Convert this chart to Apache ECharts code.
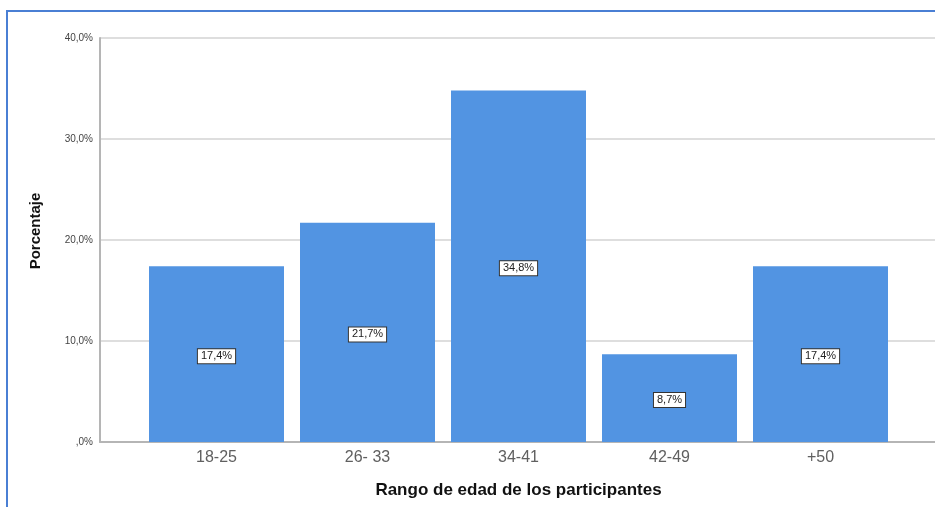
<!DOCTYPE html>
<html>
<head>
<meta charset="utf-8">
<script src="https://cdn.jsdelivr.net/npm/echarts@6/dist/echarts.min.js"></script>
<style>
  html, body { margin: 0; padding: 0; background: #fff; }
  #chart { width: 935px; height: 507px; }
</style>
</head>
<body>
<div id="chart"></div>
<script>
// datos
const categorias = ["18-25", "26- 33", "34-41", "42-49", "+50"];
const porcentajes = [17.4, 21.7, 34.8, 8.7, 17.4];
const ticksY = [0, 10, 20, 30, 40];

const font = "Liberation Sans, Arial, sans-serif";

function fmtPct(v, dec) {
  if (v === 0) return ",0%";
  return v.toFixed(dec).replace(".", ",") + "%";
}

const chart = echarts.init(document.getElementById("chart"));

const option = {
  animation: false,
  backgroundColor: "#fff",
  textStyle: { fontFamily: font },
  grid: [
    // area completa (eje Y y lineas de cuadricula)
    { left: 100, right: 0, top: 38, bottom: 65 },
    // area de las barras
    { left: 141, width: 755, top: 38, bottom: 65 }
  ],
  xAxis: [
    {
      gridIndex: 0,
      type: "value",
      min: 0,
      max: 1,
      axisLine: { show: true, lineStyle: { color: "#b5b5b5", width: 2 } },
      axisTick: { show: false },
      axisLabel: { show: false },
      splitLine: { show: false }
    },
    {
      gridIndex: 1,
      type: "category",
      data: categorias,
      axisLine: { show: false },
      axisTick: { show: false },
      axisLabel: { color: "#606060", fontSize: 16, margin: 8, fontFamily: font },
      name: "Rango de edad de los participantes",
      nameLocation: "middle",
      nameGap: 40,
      nameTextStyle: { color: "#111", fontSize: 17, fontWeight: "bold", fontFamily: font }
    }
  ],
  yAxis: [
    {
      gridIndex: 0,
      type: "value",
      min: ticksY[0],
      max: ticksY[ticksY.length - 1],
      interval: 10,
      axisLine: { show: true, lineStyle: { color: "#b5b5b5", width: 2 } },
      axisTick: { show: false },
      axisLabel: {
        color: "#444",
        fontSize: 10,
        margin: 7,
        fontFamily: font,
        formatter: (v) => fmtPct(v, 1)
      },
      splitLine: { lineStyle: { color: "#dedede", width: 2 } }
    },
    {
      gridIndex: 1,
      type: "value",
      min: ticksY[0],
      max: ticksY[ticksY.length - 1],
      show: false
    }
  ],
  series: [
    {
      type: "bar",
      xAxisIndex: 1,
      yAxisIndex: 1,
      data: porcentajes,
      barCategoryGap: "10.6%",
      itemStyle: { color: "#5294e2" },
      label: {
        show: true,
        position: "inside",
        offset: [0, 2],
        formatter: (p) => fmtPct(p.value, 1),
        color: "#222",
        fontSize: 11,
        fontFamily: font,
        backgroundColor: "#fff",
        borderColor: "#333",
        borderWidth: 1,
        padding: [2, 3, 1, 3]
      }
    }
  ],
  graphic: [
    {
      type: "text",
      x: 36,
      y: 231,
      rotation: Math.PI / 2,
      style: {
        text: "Porcentaje",
        fill: "#111",
        font: "bold 15px " + font,
        textAlign: "center",
        textVerticalAlign: "middle"
      }
    },
    {
      type: "rect",
      shape: { x: 7, y: 11, width: 960, height: 520 },
      style: { fill: null, stroke: "#4a7fd4", lineWidth: 2 }
    }
  ]
};

chart.setOption(option);
</script>
</body>
</html>
